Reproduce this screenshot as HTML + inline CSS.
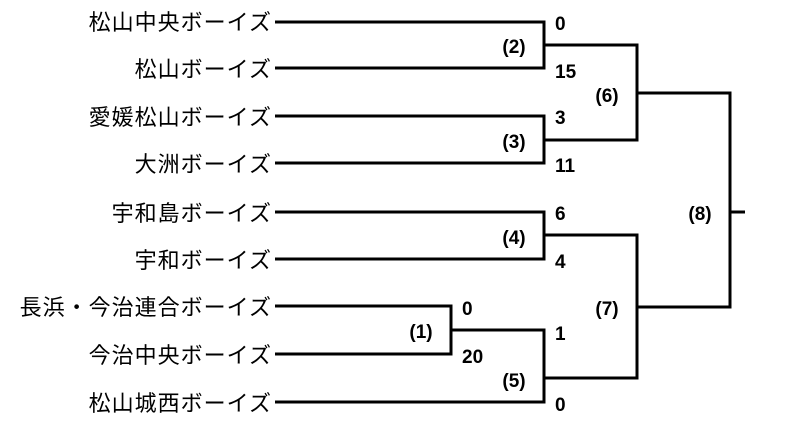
<!DOCTYPE html>
<html><head><meta charset="utf-8"><style>
body{margin:0;background:#fff;width:800px;height:420px;overflow:hidden}
svg text{font-family:"Liberation Sans","Noto Sans CJK JP",sans-serif}
.n{font-size:22px;letter-spacing:1px;text-anchor:end}
.s{font-size:19px;font-weight:bold}
.m{font-size:19px;font-weight:bold;text-anchor:middle}
</style></head><body>
<svg width="800" height="420" viewBox="0 0 800 420">
<g fill="none" stroke="#000" stroke-width="3">
<polyline points="275,22 544,22 544,68 275,68"/>
<polyline points="275,116 544,116 544,163 275,163"/>
<polyline points="544,45 637,45 637,140 544,140"/>
<polyline points="637,93 730,93 730,307 637,307"/>
<line x1="730" y1="212" x2="745" y2="212"/>
<polyline points="275,212 544,212 544,259 275,259"/>
<polyline points="544,235 637,235 637,378 544,378"/>
<polyline points="275,306 451,306 451,354 275,354"/>
<polyline points="451,330 544,330 544,402 275,402"/>
</g>
<g class="n">
<text x="272" y="30">松山中央ボーイズ</text>
<text x="272" y="77">松山ボーイズ</text>
<text x="272" y="125">愛媛松山ボーイズ</text>
<text x="272" y="172">大洲ボーイズ</text>
<text x="272" y="221">宇和島ボーイズ</text>
<text x="272" y="268">宇和ボーイズ</text>
<text x="272" y="315">長浜・今治連合ボーイズ</text>
<text x="272" y="363">今治中央ボーイズ</text>
<text x="272" y="411">松山城西ボーイズ</text>
</g>
<g class="s">
<text x="555" y="30">0</text>
<text x="555" y="78">15</text>
<text x="555" y="124">3</text>
<text x="555" y="172">11</text>
<text x="555" y="220">6</text>
<text x="555" y="268">4</text>
<text x="462" y="315">0</text>
<text x="462" y="363">20</text>
<text x="555" y="340">1</text>
<text x="555" y="411">0</text>
</g>
<g class="m">
<text x="514" y="53">(2)</text>
<text x="514" y="148">(3)</text>
<text x="607" y="102">(6)</text>
<text x="514" y="244">(4)</text>
<text x="421" y="338">(1)</text>
<text x="514" y="387">(5)</text>
<text x="607" y="315">(7)</text>
<text x="700" y="220">(8)</text>
</g>
</svg>
</body></html>
